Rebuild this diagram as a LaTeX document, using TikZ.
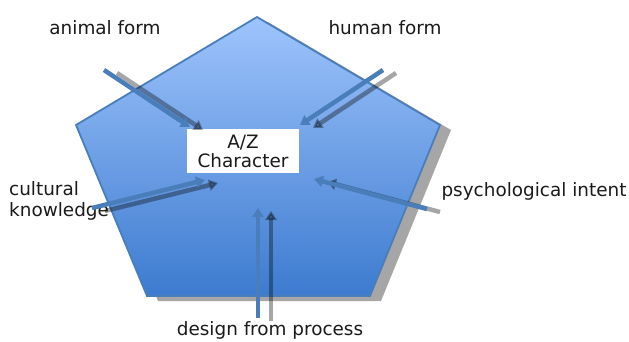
\documentclass[tikz,border=0pt]{standalone}
\usepackage{fontspec}
\setmainfont{DejaVu Sans}
\usetikzlibrary{arrows.meta}
\definecolor{penttop}{HTML}{9EC4FC}
\definecolor{pentbot}{HTML}{3D7BCF}
\definecolor{pentline}{HTML}{4A7EBB}
\definecolor{arrblue}{HTML}{4A7EBB}
\definecolor{txt}{HTML}{1A1A1A}
\tikzset{
  lbl/.style={font=\fontsize{18.4}{21}\selectfont, text=txt, inner sep=0pt},
  bluearrow/.style={draw=arrblue, line width=4.5pt,
    -{Triangle[length=9pt,width=11pt]}},
  shadowarrow/.style={draw=black, opacity=.35, line width=4.5pt,
    -{Triangle[length=9pt,width=11pt]}}
}
\begin{document}
\begin{tikzpicture}[x=1pt,y=-1pt]
  \useasboundingbox (0,0) rectangle (629,341);
  % pentagon and its shadow
  \fill[black, opacity=.35, shift={(11,5)}]
	(257,17) -- (440,125) -- (370,296) -- (147,296) -- (76,125) -- cycle;
  \shade[top color=penttop, bottom color=pentbot, draw=pentline, line width=1.8pt]
	(257,17) -- (440,125) -- (370,296) -- (147,296) -- (76,125) -- cycle;
  \node[lbl, fill=white, minimum width=112, minimum height=44, align=center,
	font=\fontsize{18.4}{19}\selectfont] (char) at (243,151) {A/Z\\Character};
  % labels
  \node[lbl] (animal) at (105,28) {animal form};
  \node[lbl] (human) at (385,28) {human form};
  \node[lbl, align=left, anchor=west] (cultural) at (9,201) {cultural\\knowledge};
  \node[lbl] (psych) at (534,191) {psychological intent};
  \node[lbl] (design) at (270,330) {design from process};
  % arrow ends
  \coordinate (animalA) at (104,70);  \coordinate (animalB) at (190,127);
  \coordinate (humanA) at (383,70);   \coordinate (humanB) at (300,125);
  \coordinate (cultA) at (92,208);    \coordinate (cultB) at (205,180);
  \coordinate (designA) at (258,318); \coordinate (designB) at (258,208);
  \coordinate (psychA) at (427,209);  \coordinate (psychB) at (314,179);
  \foreach \s/\e in {animalA/animalB, humanA/humanB, cultA/cultB,
	designA/designB, psychA/psychB}{
    \draw[shadowarrow] ([shift={(13,3)}]\s) -- ([shift={(13,3)}]\e);
    \draw[bluearrow] (\s) -- (\e);
  }
\end{tikzpicture}
\end{document}
